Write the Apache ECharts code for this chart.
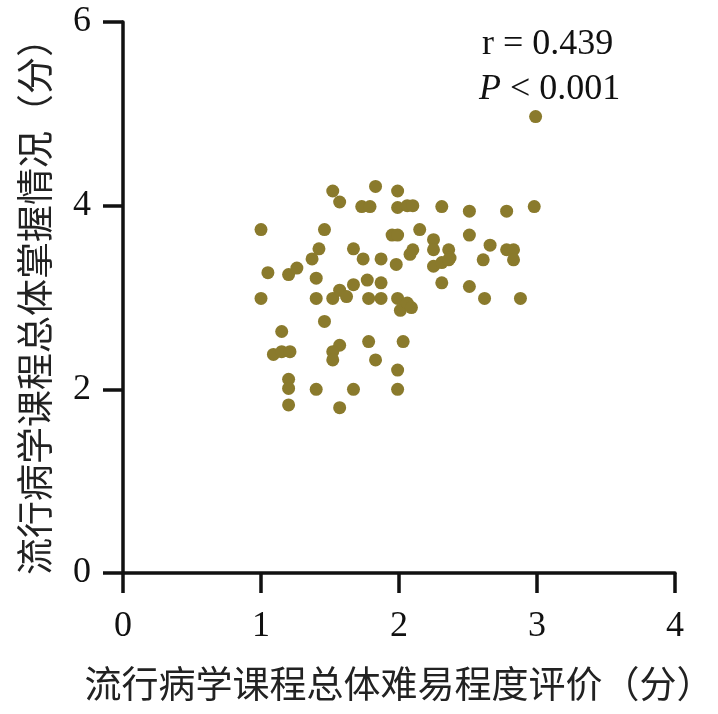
<!DOCTYPE html>
<html>
<head>
<meta charset="utf-8">
<script src="https://cdn.jsdelivr.net/npm/echarts@6/dist/echarts.min.js"></script>
<style>
  html, body { margin: 0; padding: 0; background: #fff; }
  #chart { width: 718px; height: 714px; }
</style>
</head>
<body>
<div id="chart"></div>
<script>
// difficulty rating (x) and mastery score (y)
var difficulty = [
    1.00, 1.00, 1.05, 1.15, 1.09, 1.15, 1.21, 1.20, 1.20, 1.20,
    1.20, 1.26, 1.40, 1.40, 1.40, 1.37, 1.42, 1.46, 1.46, 1.52,
    1.57, 1.52, 1.57, 1.57, 1.52, 1.52, 1.57, 1.62, 1.67, 1.74,
    1.67, 1.67, 1.77, 1.78, 1.78, 1.87, 1.87, 1.87, 1.83, 1.73,
    1.79, 1.83, 1.99, 1.99, 2.06, 2.10, 1.95, 1.99, 1.98, 1.99,
    2.01, 2.06, 2.09, 2.03, 1.99, 1.99, 2.15, 2.25, 2.25, 2.36,
    2.37, 2.10, 2.08, 2.31, 2.51, 2.78, 2.98, 2.51, 2.66, 2.78,
    2.83, 2.83, 2.61, 2.25, 2.31, 2.36, 2.31, 2.51, 2.62, 2.88,
    2.99
];
var mastery = [
    3.74, 2.99, 3.27, 2.63, 2.38, 2.41, 2.41, 2.11, 2.01, 1.83,
    3.25, 3.32, 3.21, 2.99, 2.00, 3.42, 3.53, 3.74, 2.74, 4.16,
    4.04, 2.99, 3.08, 2.48, 2.41, 2.32, 1.80, 3.01, 3.53, 3.42,
    2.00, 3.14, 3.19, 2.52, 2.99, 3.42, 3.16, 2.99, 2.32, 3.99,
    3.99, 4.21, 4.16, 3.98, 4.00, 4.00, 3.68, 3.68, 3.36, 2.99,
    2.86, 2.94, 2.89, 2.52, 2.21, 2.00, 3.74, 3.63, 3.52, 3.52,
    3.43, 3.52, 3.47, 3.99, 3.94, 3.94, 3.99, 3.68, 3.57, 3.52,
    3.52, 3.41, 3.41, 3.34, 3.38, 3.41, 3.16, 3.12, 2.99, 2.99,
    4.97
];
var xTitle = '流行病学课程总体难易程度评价（分）';
var yTitle = '流行病学课程总体掌握情况（分）';
var rText = 'r = 0.439';
var pText = '0.001';

var points = difficulty.map(function (x, i) { return [x, mastery[i]]; });

var serif = '"Liberation Serif", "DejaVu Serif", serif';
var cjk = '"Noto Sans CJK SC", sans-serif';

var axisCommon = {
    type: 'value',
    splitLine: { show: false },
    axisLine: { show: true, lineStyle: { color: '#111', width: 3.5 } },
    axisTick: { show: true, length: 20, lineStyle: { color: '#111', width: 3.5 } },
    nameLocation: 'middle',
    nameTextStyle: { fontFamily: cjk, fontSize: 37, color: '#222' }
};

var option = {
    animation: false,
    backgroundColor: '#fff',
    grid: { left: 123, right: 43, top: 22, bottom: 141 },
    xAxis: Object.assign({}, axisCommon, {
        min: 0, max: 4, interval: 1,
        name: xTitle,
        nameGap: 92,
        axisLabel: { margin: 36, fontFamily: serif, fontSize: 36, color: '#111' }
    }),
    yAxis: Object.assign({}, axisCommon, {
        min: 0, max: 6, interval: 2,
        name: yTitle,
        nameGap: 70,
        axisLabel: { margin: 32, fontFamily: serif, fontSize: 36, color: '#111' }
    }),
    graphic: [
        {
            type: 'text', left: 482, top: 27,
            style: { text: rText, font: '36px ' + serif, fill: '#111' }
        },
        {
            type: 'text', left: 479, top: 72,
            style: {
                text: '{i|P} < ' + pText,
                font: '36px ' + serif, fill: '#111',
                rich: { i: { fontStyle: 'italic', fontFamily: serif, fontSize: 36, fill: '#111' } }
            }
        }
    ],
    series: [
        {
            type: 'scatter',
            data: points,
            symbolSize: 13,
            itemStyle: { color: '#8a7a2c', opacity: 1 }
        }
    ]
};

window.onload = function () {
    var chart = echarts.init(document.getElementById('chart'));
    chart.setOption(option);
};
</script>
</body>
</html>
